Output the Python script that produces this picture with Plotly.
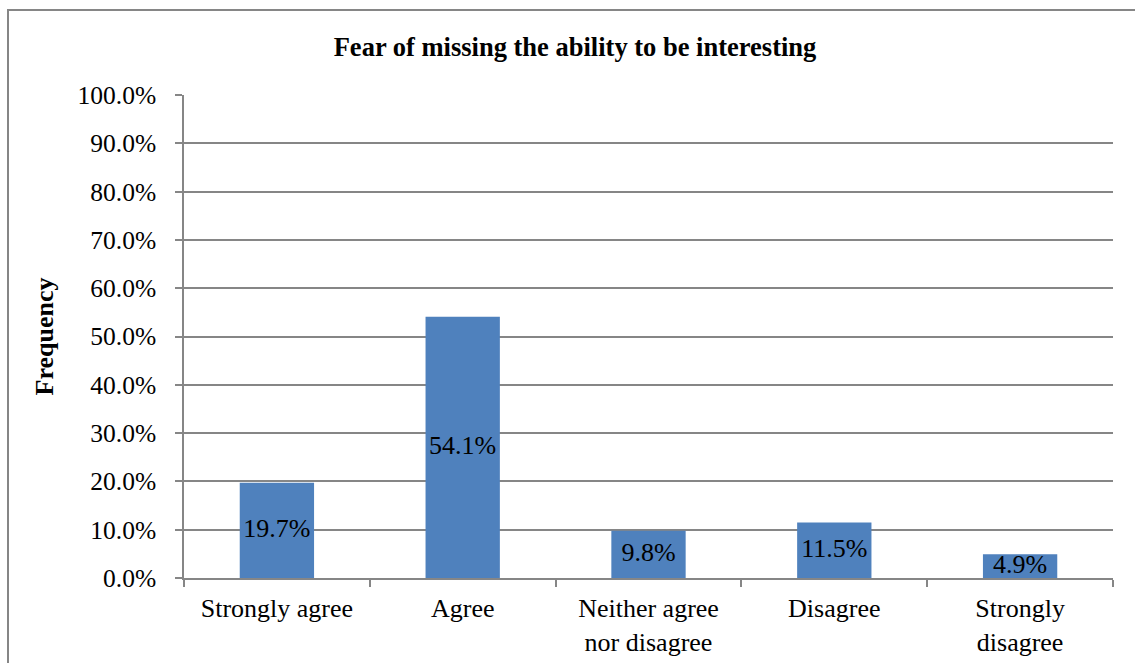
import plotly.graph_objects as go

categories = ["Strongly agree", "Agree", "Neither agree<br>nor disagree", "Disagree", "Strongly<br>disagree"]
values = [19.7, 54.1, 9.8, 11.5, 4.9]
labels = ["19.7%", "54.1%", "9.8%", "11.5%", "4.9%"]
y_ticks = [0, 10, 20, 30, 40, 50, 60, 70, 80, 90, 100]
y_ticktext = ["%.1f%%" % v for v in y_ticks]

W, H = 1135, 663
L, R, T, B = 184, 22, 95, 85
pw, ph = W - L - R, H - T - B

FONT = "Liberation Serif, Times New Roman, serif"
GRID = "#868686"

fig = go.Figure()
fig.add_trace(go.Bar(x=categories, y=values, marker=dict(color="#4F81BD", line=dict(width=0)),
                     hoverinfo="skip"))
fig.add_trace(go.Scatter(x=categories, y=[v / 2 for v in values], text=labels, mode="text",
                         textposition="middle center",
                         textfont=dict(family=FONT, size=26, color="black"), hoverinfo="skip"))

fig.update_layout(
    width=W, height=H,
    margin=dict(l=L, r=R, t=T, b=B, autoexpand=False),
    paper_bgcolor="white", plot_bgcolor="white",
    showlegend=False, bargap=0.6,
    font=dict(family=FONT, size=26, color="black"),
    title=dict(text="<b>Fear of missing the ability to be interesting</b>",
               x=(575 - L) / pw, xref="paper", xanchor="center",
               y=1 - 47 / H, yref="container", yanchor="middle",
               font=dict(family=FONT, size=26.5, color="black")),
    xaxis=dict(showgrid=False, showline=True, linecolor=GRID, linewidth=1.5,
               ticks="outside", tickson="boundaries", ticklen=7, tickcolor=GRID, tickwidth=1.5,
               ticklabelstandoff=6, automargin=False,
               tickfont=dict(family=FONT, size=26, color="black")),
    yaxis=dict(range=[0, 100], tickvals=y_ticks, ticktext=y_ticktext,
               showgrid=True, gridcolor=GRID, gridwidth=1.5,
               showline=True, linecolor=GRID, linewidth=1.5,
               ticks="outside", ticklen=7, tickcolor=GRID, tickwidth=1.5,
               ticklabelstandoff=14, automargin=False,
               tickfont=dict(family=FONT, size=25.5, color="black"),
               title=dict(text="<b>Frequency</b>", font=dict(family=FONT, size=26, color="black"),
                          standoff=16),
               zeroline=False),
    shapes=[dict(type="rect", xref="paper", yref="paper",
                 x0=(8 - L) / pw, x1=(W + 20 - L) / pw,
                 y0=-(H + 20 - (H - B)) / ph, y1=1 + (T - 10) / ph,
                 line=dict(color=GRID, width=2), fillcolor="rgba(0,0,0,0)", layer="below")],
)

fig.write_html("out.html", config={"displayModeBar": False},
               post_script="document.body.style.margin='0';document.body.style.overflow='hidden';")
